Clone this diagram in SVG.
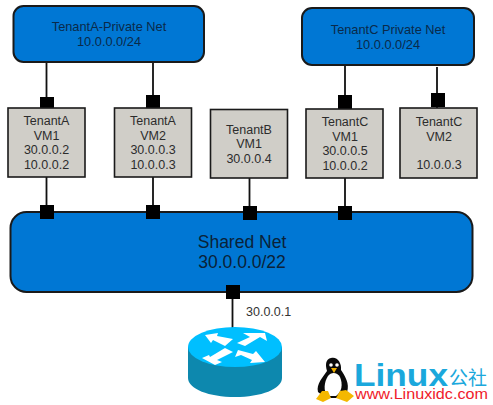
<svg xmlns="http://www.w3.org/2000/svg" width="493" height="405" viewBox="0 0 493 405">
<style>
text{font-family:"Liberation Sans",Arial,sans-serif;text-anchor:middle}
.net{fill:#0077d4;stroke:#1a1a1a;stroke-width:2}
.vm{fill:#d0cec8;stroke:#1a1a1a;stroke-width:1.6}
.t{font-size:12.5px;fill:#2c2c2c}
.n{font-size:12.8px;fill:#0a2a4a}
.s{font-size:17.5px;fill:#0a2238}
.c{stroke:#111;stroke-width:1.8;fill:none}
.p{fill:#000}
</style>
<rect width="493" height="405" fill="#fff"/>
<g id="connectors">
<path class="c" d="M46.500 62V108M153 62V108M345 65V108M437 67V108M46.500 177V212M153 177V212M249.500 178V212M345 178V212M232.500 292V330"/>
<rect class="p" x="40" y="97" width="14" height="14"/><rect class="p" x="146" y="95" width="14" height="14"/><rect class="p" x="338" y="95" width="14" height="14"/><rect class="p" x="431" y="93" width="14" height="14"/>
</g>
<g id="tenantA-net"><rect class="net" x="13.500" y="6" width="190.500" height="56" rx="10"/><text class="n" x="109" y="31">TenantA-Private Net</text><text class="n" x="109" y="46">10.0.0.0/24</text></g>
<g id="tenantC-net"><rect class="net" x="302" y="8" width="172" height="57" rx="10"/><text class="n" x="388" y="34">TenantC Private Net</text><text class="n" x="388" y="49">10.0.0.0/24</text></g>
<g id="vm-a1"><rect class="vm" x="8" y="108" width="77" height="69"/><text class="t" x="46.500" y="125">TenantA</text><text class="t" x="46.500" y="140">VM1</text><text class="t" x="46.500" y="154">30.0.0.2</text><text class="t" x="46.500" y="169">10.0.0.2</text></g>
<g id="vm-a2"><rect class="vm" x="114.500" y="108" width="77" height="69"/><text class="t" x="153" y="125">TenantA</text><text class="t" x="153" y="140">VM2</text><text class="t" x="153" y="154">30.0.0.3</text><text class="t" x="153" y="169">10.0.0.3</text></g>
<g id="vm-b1"><rect class="vm" x="210.500" y="109.500" width="77" height="68.500"/><text class="t" x="249" y="134">TenantB</text><text class="t" x="249" y="148">VM1</text><text class="t" x="249" y="163">30.0.0.4</text></g>
<g id="vm-c1"><rect class="vm" x="306" y="109" width="77" height="69"/><text class="t" x="345" y="126">TenantC</text><text class="t" x="345" y="141">VM1</text><text class="t" x="345" y="155">30.0.0.5</text><text class="t" x="345" y="170">10.0.0.2</text></g>
<g id="vm-c2"><rect class="vm" x="400" y="108" width="77" height="70"/><text class="t" x="439" y="126">TenantC</text><text class="t" x="439" y="141">VM2</text><text class="t" x="439" y="169">10.0.0.3</text></g>
<g id="shared-net"><rect class="net" x="10.500" y="212" width="462" height="80" rx="16"/><text class="s" x="242" y="248">Shared Net</text><text class="s" x="242" y="268">30.0.0.0/22</text></g>
<g id="ports">
<rect class="p" x="40" y="205" width="14" height="14"/><rect class="p" x="146" y="205" width="14" height="14"/><rect class="p" x="243" y="206" width="14" height="14"/><rect class="p" x="338" y="206" width="14" height="14"/><rect class="p" x="226" y="285" width="14" height="14"/>
</g>
<text x="246" y="316" style="font-size:12.500px;fill:#333;text-anchor:start">30.0.0.1</text>
<g id="router">
<path d="M188 347V378C188 389 209 397 235 397S282 389 282 378V347Z" fill="#0d88ae"/>
<ellipse cx="235" cy="347" rx="47" ry="20" fill="#00bfff"/>
<path d="M205 335L218 333L217 336L233 339L225 346L213 340L211 343ZM237 343L250 337L243 333L265 333L267 341L260 337L245 346ZM202 358L209 355L210 357L225 348L233 352L217 360L222 362L215 365ZM235 357L238 350L253 354L256 351L265 362L250 363L252 360L241 355Z" fill="#fff"/>
</g>
<g id="logo">
<path d="M331 358C337 356 342 363 341 370C345 376 350 384 347 392L337 398L326 398L318 392C316 384 323 377 327 371C325 364 326 359 331 358Z" fill="#0a0a0a"/>
<path d="M328 376C331 372 337 372 340 377C343 384 342 392 336 396H328C323 392 324 382 328 376Z" fill="#fff"/>
<path d="M331 368L337 368L334 373Z" fill="#f0b000"/>
<path d="M322 391L316 399L323 402L331 398L328 391ZM340 391L336 398L347 402L354 396L346 390Z" fill="#f4b800"/>
<circle cx="331" cy="365" r="1.800" fill="#fff"/><circle cx="337" cy="365" r="1.800" fill="#fff"/>
<text x="354" y="386" style="font-size:32px;font-weight:700;fill:#1ba8dc;text-anchor:start" textLength="94" lengthAdjust="spacingAndGlyphs">Linux</text>
<text x="449" y="385" style="font-size:19px;fill:#1ba8dc;text-anchor:start;font-family:'Noto Sans CJK SC','Liberation Sans',sans-serif">公社</text>
<text x="355" y="399" style="font-size:15px;fill:#ef1a2a;text-anchor:start" textLength="133" lengthAdjust="spacingAndGlyphs">www.Linuxidc.com</text>
</g>
</svg>
